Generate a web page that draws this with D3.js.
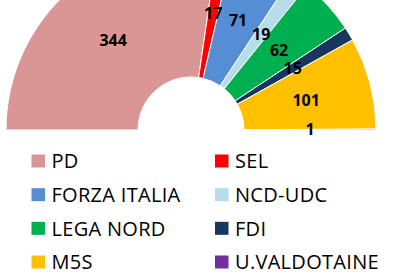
<!DOCTYPE html>
<html>
<head>
<meta charset="utf-8">
<script src="https://cdn.jsdelivr.net/npm/d3@7"></script>
<style>
  body { margin: 0; background: #fff; }
  svg { display: block; }
  .seat-label { font-family: "Open Sans", sans-serif; font-weight: bold; font-size: 16px; fill: #000; }
  .legend-label { font-family: "Open Sans", sans-serif; font-size: 20px; fill: #000; }
</style>
</head>
<body>
<svg width="418" height="280"></svg>
<script>
const parties = ["PD", "SEL", "FORZA ITALIA", "NCD-UDC", "LEGA NORD", "FDI", "M5S", "U.VALDOTAINE"];
const seats = [344, 17, 71, 19, 62, 15, 101, 1];
const colors = ["#DA9694", "#FF0000", "#558ED5", "#B7DDE8", "#00B050", "#17375E", "#FFC000", "#7030A0"];

const svg = d3.select("svg");
const width = +svg.attr("width");
const height = +svg.attr("height");

const cx = 191;
const cy = 130;
const outerRadius = 185;
const innerRadius = 53;

const data = parties.map((p, i) => ({ party: p, value: seats[i], color: colors[i] }));

const pie = d3.pie()
  .sort(null)
  .value(d => d.value)
  .startAngle(-Math.PI / 2)
  .endAngle(Math.PI / 2);

const arc = d3.arc()
  .innerRadius(innerRadius)
  .outerRadius(outerRadius);

const labelArc = d3.arc()
  .innerRadius((innerRadius + outerRadius) / 2)
  .outerRadius((innerRadius + outerRadius) / 2);

const g = svg.append("g")
  .attr("transform", `translate(${cx},${cy})`);

const arcs = pie(data);

g.selectAll("path")
  .data(arcs)
  .enter()
  .append("path")
  .attr("d", arc)
  .attr("fill", d => d.data.color)
  .attr("stroke", "#fff")
  .attr("stroke-width", 1);

g.selectAll("text")
  .data(arcs)
  .enter()
  .append("text")
  .attr("class", "seat-label")
  .attr("transform", d => `translate(${labelArc.centroid(d)})`)
  .attr("text-anchor", "middle")
  .attr("dy", "0.36em")
  .text(d => d.data.value);

// legend, two columns
const legendX = d3.scalePoint().domain([0, 1]).range([31.5, 215]);
const legendY = d3.scalePoint().domain([0, 1, 2, 3]).range([161, 262]);

const legend = svg.append("g");
const items = legend.selectAll("g")
  .data(data)
  .enter()
  .append("g")
  .attr("transform", (d, i) => `translate(${legendX(i % 2)},${legendY(Math.floor(i / 2))})`);

items.append("rect")
  .attr("x", 0)
  .attr("y", -6.5)
  .attr("width", 13.5)
  .attr("height", 13)
  .attr("fill", d => d.color);

items.append("text")
  .attr("class", "legend-label")
  .attr("x", 20)
  .attr("dy", "0.36em")
  .style("letter-spacing", "0.3px")
  .text(d => d.party);
</script>
</body>
</html>
